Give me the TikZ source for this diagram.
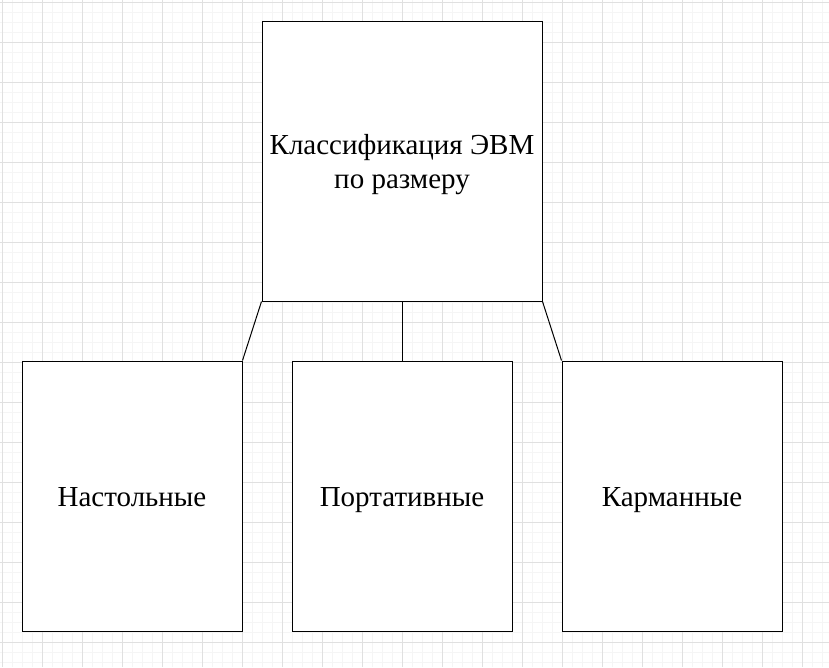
\documentclass[tikz,border=0pt]{standalone}
\usepackage{fontspec}
\setmainfont{Liberation Serif}
\definecolor{gridminor}{HTML}{F5F5F5}
\definecolor{gridmajor}{HTML}{E0E0E0}
\begin{document}
\begin{tikzpicture}[x=1pt,y=-1pt,
    box/.style={draw,line width=1pt,fill=white,inner sep=0pt,align=center,
      font=\fontsize{29}{34}\selectfont},
    leaf/.style={box,minimum width=220pt,minimum height=270pt,
      text height=26pt,text depth=6pt},
    link/.style={line width=1pt}]
  \useasboundingbox (0,0) rectangle (829,667);
  \fill[white] (0,0) rectangle (829,667);
  % grid
  \foreach \x in {2,12,...,829} \draw[gridminor,line width=1pt] (\x,0)--(\x,667);
  \foreach \y in {2,12,...,667} \draw[gridminor,line width=1pt] (0,\y)--(829,\y);
  \foreach \x in {2,42,...,829} \draw[gridmajor,line width=1pt] (\x,0)--(\x,667);
  \foreach \y in {2,42,...,667} \draw[gridmajor,line width=1pt] (0,\y)--(829,\y);
  % boxes
  \node[box,minimum width=280pt,minimum height=280pt] (evm) at (402,161) {};
  \node[font=\fontsize{29}{34}\selectfont,align=center,inner sep=0pt] (evmtext) at (402,165)
    {Классификация ЭВМ\\по размеру};
  \node[leaf] (desk) at (132,496) {Настольные};
  \node[leaf] (port) at (402,496) {Портативные};
  \node[leaf] (pocket) at (672,496) {Карманные};
  % links
  \draw[link] (evm.south west)--(desk.north east);
  \draw[link] (evm.south)--(port.north);
  \draw[link] (evm.south east)--(pocket.north west);
\end{tikzpicture}
\end{document}
